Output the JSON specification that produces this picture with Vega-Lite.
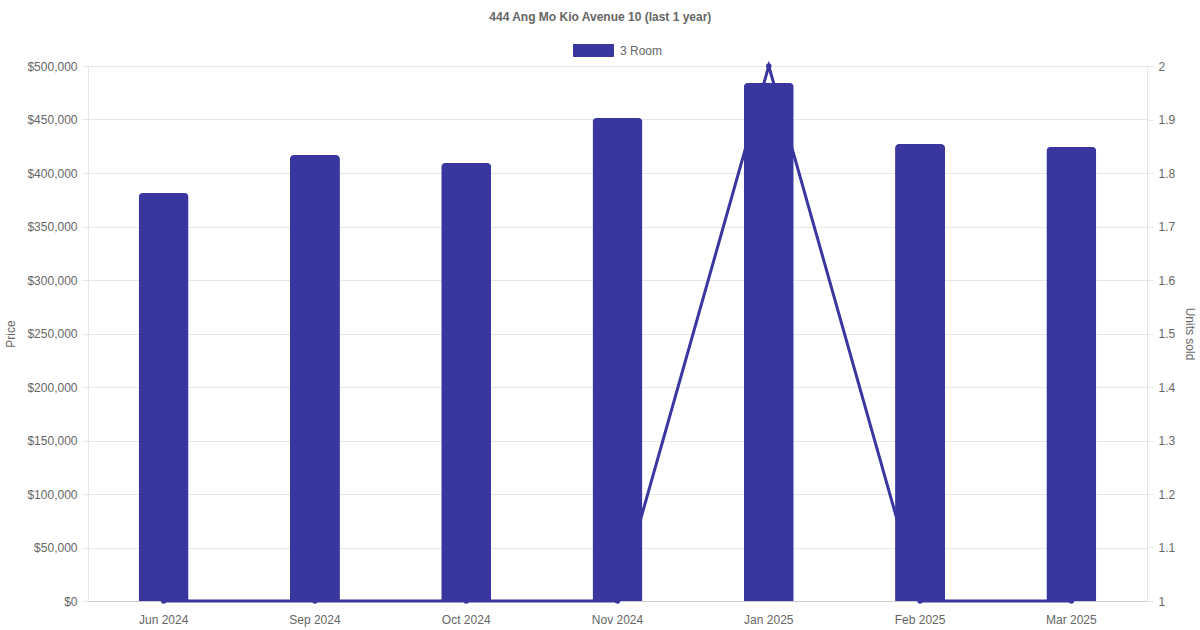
{
  "$schema": "https://vega.github.io/schema/vega-lite/v6.json",
  "width": 1200,
  "height": 630,
  "autosize": {"type": "fit", "contains": "padding"},
  "padding": {"left": 4, "right": 4, "top": 11, "bottom": 5},
  "background": "white",
  "title": {
    "text": "444 Ang Mo Kio Avenue 10 (last 1 year)",
    "anchor": "middle",
    "frame": "bounds",
    "font": "Liberation Sans",
    "fontSize": 12,
    "fontWeight": "bold",
    "color": "#666666",
    "offset": 6
  },
  "config": {
    "view": {"stroke": null},
    "font": "Liberation Sans",
    "axis": {
      "labelFont": "Liberation Sans",
      "labelFontSize": 12,
      "labelColor": "#666666",
      "titleFont": "Liberation Sans",
      "titleFontSize": 12,
      "titleFontWeight": "normal",
      "titleColor": "#666666",
      "gridColor": "#e6e6e6",
      "domainColor": "#e6e6e6",
      "tickColor": "#e6e6e6"
    },
    "legend": {
      "labelFont": "Liberation Sans",
      "labelFontSize": 12,
      "labelColor": "#666666",
      "layout": {"top": {"anchor": "middle"}}
    }
  },
  "data": {
    "values": [
      {"month": "Jun 2024", "price": 381300, "units": 1, "type": "3 Room"},
      {"month": "Sep 2024", "price": 416800, "units": 1, "type": "3 Room"},
      {"month": "Oct 2024", "price": 409300, "units": 1, "type": "3 Room"},
      {"month": "Nov 2024", "price": 451400, "units": 1, "type": "3 Room"},
      {"month": "Jan 2025", "price": 484000, "units": 2, "type": "3 Room"},
      {"month": "Feb 2025", "price": 427100, "units": 1, "type": "3 Room"},
      {"month": "Mar 2025", "price": 424300, "units": 1, "type": "3 Room"}
    ]
  },
  "encoding": {
    "x": {
      "field": "month",
      "type": "nominal",
      "sort": null,
      "scale": {"paddingInner": 0, "paddingOuter": 0},
      "axis": {
        "title": null,
        "labelAngle": 0,
        "ticks": false,
        "grid": false,
        "labelPadding": 13,
        "domainColor": "#cccccc"
      }
    }
  },
  "layer": [
    {
      "mark": {"type": "bar", "size": 50, "cornerRadiusTopLeft": 4, "cornerRadiusTopRight": 4, "color": "#3936a0"},
      "encoding": {
        "y": {
          "field": "price",
          "type": "quantitative",
          "scale": {"domain": [0, 500000], "nice": false},
          "axis": {
            "title": "Price",
            "orient": "left",
            "format": "$,.0f",
            "values": [0, 50000, 100000, 150000, 200000, 250000, 300000, 350000, 400000, 450000, 500000],
            "tickSize": 6,
            "labelPadding": 5,
            "titlePadding": 9
          }
        },
        "color": {
          "field": "type",
          "type": "nominal",
          "scale": {"range": ["#3936a0"]},
          "legend": {
            "title": null,
            "orient": "top",
            "symbolType": "M-1,-0.3H1V0.3H-1Z",
            "symbolSize": 1600,
            "symbolStrokeWidth": 1,
            "symbolStrokeColor": "#3936a0",
            "symbolOpacity": 1,
            "labelOffset": 6,
            "offset": 7
          }
        }
      }
    },
    {
      "mark": {"type": "line", "color": "#3936a0", "strokeWidth": 3, "point": {"filled": true, "size": 30, "color": "#3936a0"}},
      "encoding": {
        "y": {
          "field": "units",
          "type": "quantitative",
          "scale": {"domain": [1, 2], "nice": false, "zero": false},
          "axis": {
            "title": "Units sold",
            "orient": "right",
            "format": "~g",
            "values": [1, 1.1, 1.2, 1.3, 1.4, 1.5, 1.6, 1.7, 1.8, 1.9, 2],
            "grid": false,
            "tickSize": 6,
            "labelPadding": 5,
            "titlePadding": 8
          }
        }
      }
    }
  ],
  "resolve": {"scale": {"y": "independent"}}
}
